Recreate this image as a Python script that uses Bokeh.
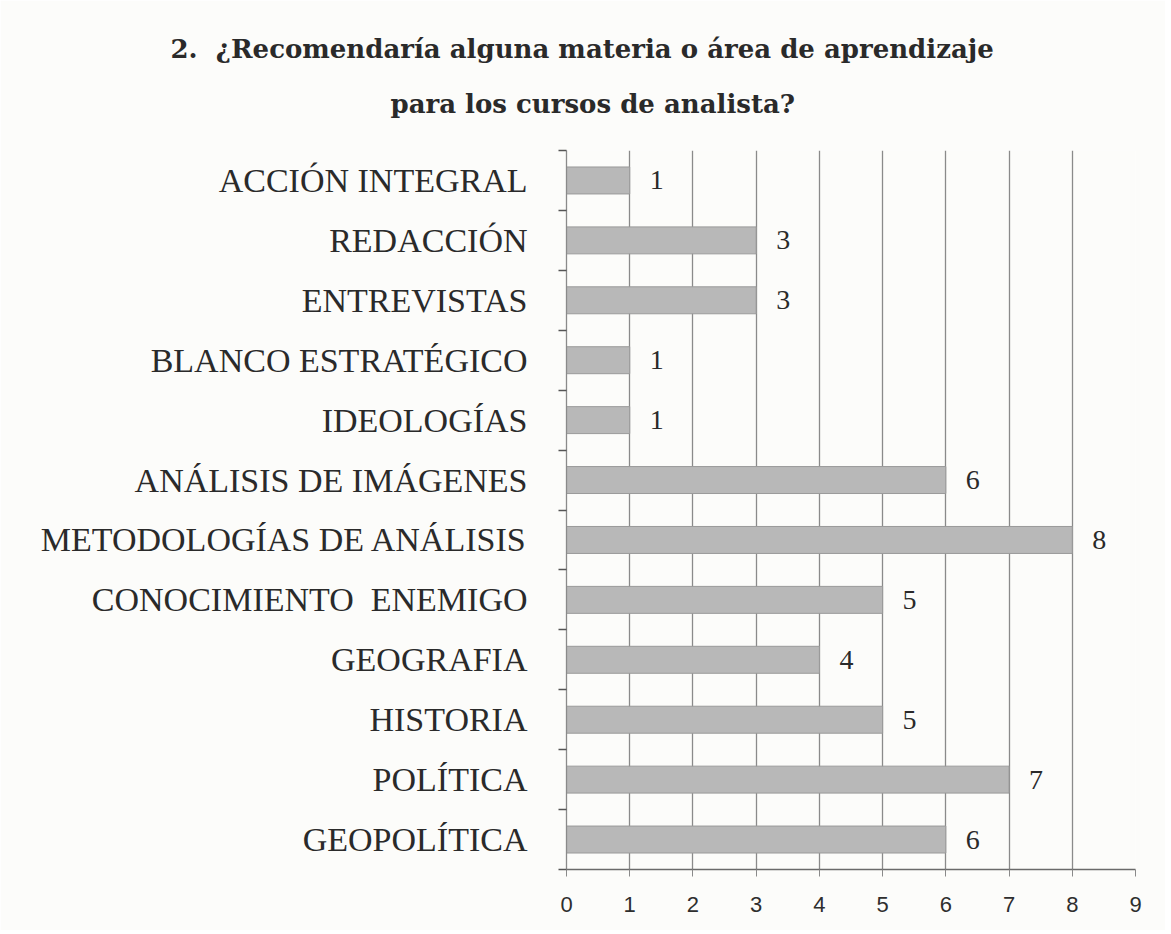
from bokeh.plotting import figure
from bokeh.models import (Range1d, LinearAxis, FixedTicker, Title,
                          ColumnDataSource, LabelSet)
from bokeh.embed import file_html
from bokeh.resources import INLINE

# ---- data (top to bottom as in the reference) ----
categories = ["ACCIÓN INTEGRAL", "REDACCIÓN", "ENTREVISTAS", "BLANCO ESTRATÉGICO",
              "IDEOLOGÍAS", "ANÁLISIS DE IMÁGENES", "METODOLOGÍAS DE ANÁLISIS",
              "CONOCIMIENTO\u00a0 ENEMIGO", "GEOGRAFIA", "HISTORIA", "POLÍTICA", "GEOPOLÍTICA"]
counts = [1, 3, 3, 1, 1, 6, 8, 5, 4, 5, 7, 6]
x_ticks = [0, 1, 2, 3, 4, 5, 6, 7, 8, 9]
title_line1 = "2.\u00a0 ¿Recomendaría alguna materia o área de aprendizaje"
title_line2 = "para los cursos de analista?"

BG = "#fcfcfa"
SERIF = "Liberation Serif"

n = len(categories)
slot = [n - 1 - i for i in range(n)]          # first category at the top

p = figure(width=1165, height=930,
           y_range=Range1d(-0.5, n - 0.5),
           x_range=Range1d(x_ticks[0], x_ticks[-1]),
           y_axis_location=None,
           output_backend="svg", toolbar_location=None,
           min_border_left=566, min_border_right=30,
           min_border_top=150, min_border_bottom=61)
p.title = None
p.background_fill_color = BG
p.border_fill_color = BG
p.outline_line_color = None

src = ColumnDataSource(dict(y=slot, val=counts, txt=[str(v) for v in counts]))

p.hbar(y="y", right="val", left=0, height=0.45, source=src,
       fill_color="#b8b8b8", line_color="#9a9a9a", line_width=1)

p.add_layout(LabelSet(x="val", y="y", text="txt", source=src,
                      x_offset=20, text_align="left", text_baseline="middle",
                      text_font=SERIF, text_font_size="28px", text_color="#2a2a2a"))

# x axis & grid
p.xaxis.ticker = FixedTicker(ticks=x_ticks)
p.xaxis.major_tick_in = 0
p.xaxis.major_tick_out = 7
p.xaxis.minor_tick_line_color = None
p.xaxis.axis_line_color = "#6a6a6a"
p.xaxis.axis_line_width = 1.5
p.xaxis.major_tick_line_color = "#8a8a8a"
p.xaxis.major_label_standoff = 20
p.xaxis.major_label_text_font = "Liberation Sans"
p.xaxis.major_label_text_font_size = "22px"
p.xaxis.major_label_text_color = "#2e2e2e"

p.xgrid.ticker = FixedTicker(ticks=x_ticks)
p.xgrid.grid_line_color = "#8a8a8a"
p.xgrid.grid_line_width = 1.3
p.ygrid.visible = False

# y axis: labels at band centres, tick marks at band boundaries
overrides = {slot[i]: categories[i] for i in range(n)}
yax = LinearAxis(ticker=FixedTicker(ticks=sorted(slot),
                                    minor_ticks=[i - 0.5 for i in range(n + 1)]),
                 major_label_overrides=overrides,
                 major_tick_out=8, major_tick_in=0, major_tick_line_color=None,
                 minor_tick_out=8, minor_tick_in=0, minor_tick_line_color="#555555",
                 minor_tick_line_width=1.3,
                 axis_line_color="#8a8a8a", axis_line_width=1.3,
                 major_label_standoff=31,
                 major_label_text_font=SERIF, major_label_text_font_size="34px",
                 major_label_text_color="#2a2a2a")
p.add_layout(yax, "left")

# title (two lines): first added sits nearest the plot
p.add_layout(Title(text=title_line2, align="left", offset=-176, standoff=64,
                   text_font="DejaVu Serif", text_font_style="bold",
                   text_font_size="26px", text_color="#2a2a2a"), "above")
p.add_layout(Title(text=title_line1, align="left", offset=-396, standoff=-19,
                   text_font="DejaVu Serif", text_font_style="bold",
                   text_font_size="26px", text_color="#2a2a2a"), "above")

open("out.html", "w").write(file_html(p, INLINE))
